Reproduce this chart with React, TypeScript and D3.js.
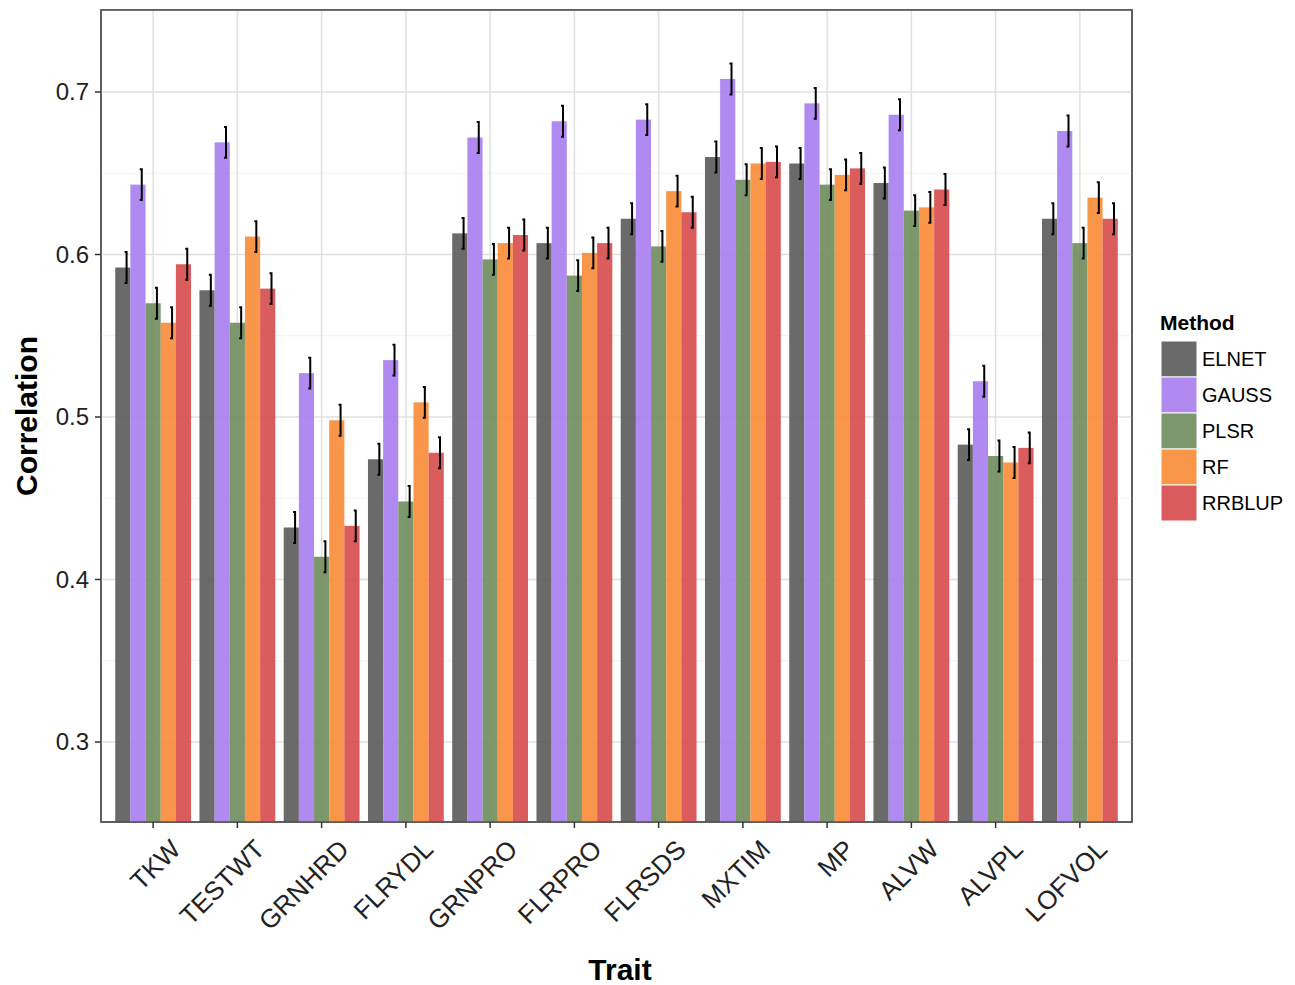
import React from 'react';
import * as d3 from 'd3';

const traits = ['TKW', 'TESTWT', 'GRNHRD', 'FLRYDL', 'GRNPRO', 'FLRPRO', 'FLRSDS', 'MXTIM', 'MP', 'ALVW', 'ALVPL', 'LOFVOL'];
const methods = ['ELNET', 'GAUSS', 'PLSR', 'RF', 'RRBLUP'];
const colors = ['#5a5a5a', '#a97df0', '#6e8c5c', '#f98b35', '#d64a4a'];

const elnet = [0.592, 0.578, 0.432, 0.474, 0.613, 0.607, 0.622, 0.660, 0.656, 0.644, 0.483, 0.622];
const gauss = [0.643, 0.669, 0.527, 0.535, 0.672, 0.682, 0.683, 0.708, 0.693, 0.686, 0.522, 0.676];
const plsr = [0.570, 0.558, 0.414, 0.448, 0.597, 0.587, 0.605, 0.646, 0.643, 0.627, 0.476, 0.607];
const rf = [0.558, 0.611, 0.498, 0.509, 0.607, 0.601, 0.639, 0.656, 0.649, 0.629, 0.472, 0.635];
const rrblup = [0.594, 0.579, 0.433, 0.478, 0.612, 0.607, 0.626, 0.657, 0.653, 0.640, 0.481, 0.622];
const series = [elnet, gauss, plsr, rf, rrblup];
const err = 0.0095;
const yTicks = [0.3, 0.4, 0.5, 0.6, 0.7];

const W = 1295, H = 985;
const m = { left: 101, right: 1132, top: 10, bottom: 822 };

export default function App() {
  const x = d3.scaleBand().domain(traits).range([m.left + 10, m.right - 10]).paddingInner(0.1).paddingOuter(0.05);
  const xm = d3.scaleBand().domain(methods).range([0, x.bandwidth()]);
  const y = d3.scaleLinear().domain([0.3, 0.7]).range([742, 92]);
  const minor = [0.25, 0.35, 0.45, 0.55, 0.65, 0.75];
  const font = 'Arial, "Liberation Sans", sans-serif';
  return (
    <svg width={W} height={H} style={{ position: 'absolute', left: 0, top: 0 }} fontFamily={font}>
      <rect x={m.left} y={m.top} width={m.right - m.left} height={m.bottom - m.top} fill="white" stroke="#555" strokeWidth={1.5} />
      {minor.map(v => y(v) > m.top && y(v) < m.bottom && (
        <line key={'n' + v} x1={m.left} x2={m.right} y1={y(v)} y2={y(v)} stroke="#f2f2f2" strokeWidth={1} />
      ))}
      {yTicks.map(v => (
        <line key={'g' + v} x1={m.left} x2={m.right} y1={y(v)} y2={y(v)} stroke="#e0e0e0" strokeWidth={1.5} />
      ))}
      {traits.map(t => (
        <line key={'v' + t} x1={x(t)! + x.bandwidth() / 2} x2={x(t)! + x.bandwidth() / 2} y1={m.top} y2={m.bottom} stroke="#e0e0e0" strokeWidth={1.5} />
      ))}
      {traits.map((t, i) => methods.map((mt, j) => {
        const v = series[j][i];
        const bx = x(t)! + xm(mt)!;
        const cx = bx + xm.bandwidth() * 0.75;
        return (
          <g key={t + mt}>
            <rect x={bx} y={y(v)} width={xm.bandwidth()} height={m.bottom - y(v)} fill={colors[j]} opacity={0.9} />
            <path d={`M${cx - 2},${y(v + err)} H${cx} V${y(v - err)} H${cx - 2}`} fill="none" stroke="#000" strokeWidth={2} />
          </g>
        );
      }))}
      <rect x={m.left} y={m.top} width={m.right - m.left} height={m.bottom - m.top} fill="none" stroke="#555" strokeWidth={1.5} />
      {yTicks.map(v => (
        <g key={'t' + v}>
          <line x1={m.left - 6} x2={m.left} y1={y(v)} y2={y(v)} stroke="#333" strokeWidth={1.5} />
          <text x={m.left - 12} y={y(v)} dy="0.35em" textAnchor="end" fontSize={24} fill="#222">{v.toFixed(1)}</text>
        </g>
      ))}
      {traits.map(t => {
        const cx = x(t)! + x.bandwidth() / 2;
        return (
          <g key={'x' + t}>
            <line x1={cx} x2={cx} y1={m.bottom} y2={m.bottom + 6} stroke="#333" strokeWidth={1.5} />
            <text transform={`translate(${cx + 16},${m.bottom + 16}) rotate(-45)`} textAnchor="end" dy="0.7em" fontSize={26} fill="#222">{t}</text>
          </g>
        );
      })}
      <text x={620} y={980} textAnchor="middle" fontSize={30} fontWeight="bold">Trait</text>
      <text transform={`translate(37,${416}) rotate(-90)`} textAnchor="middle" fontSize={30} fontWeight="bold">Correlation</text>
      <text x={1160} y={330} fontSize={21} fontWeight="bold">Method</text>
      {methods.map((mt, j) => (
        <g key={'l' + mt}>
          <rect x={1161} y={341 + j * 36} width={36} height={36} fill={colors[j]} opacity={0.9} stroke="white" strokeWidth={1} />
          <text x={1202} y={359 + j * 36} dy="0.35em" fontSize={20}>{mt}</text>
        </g>
      ))}
    </svg>
  );
}
